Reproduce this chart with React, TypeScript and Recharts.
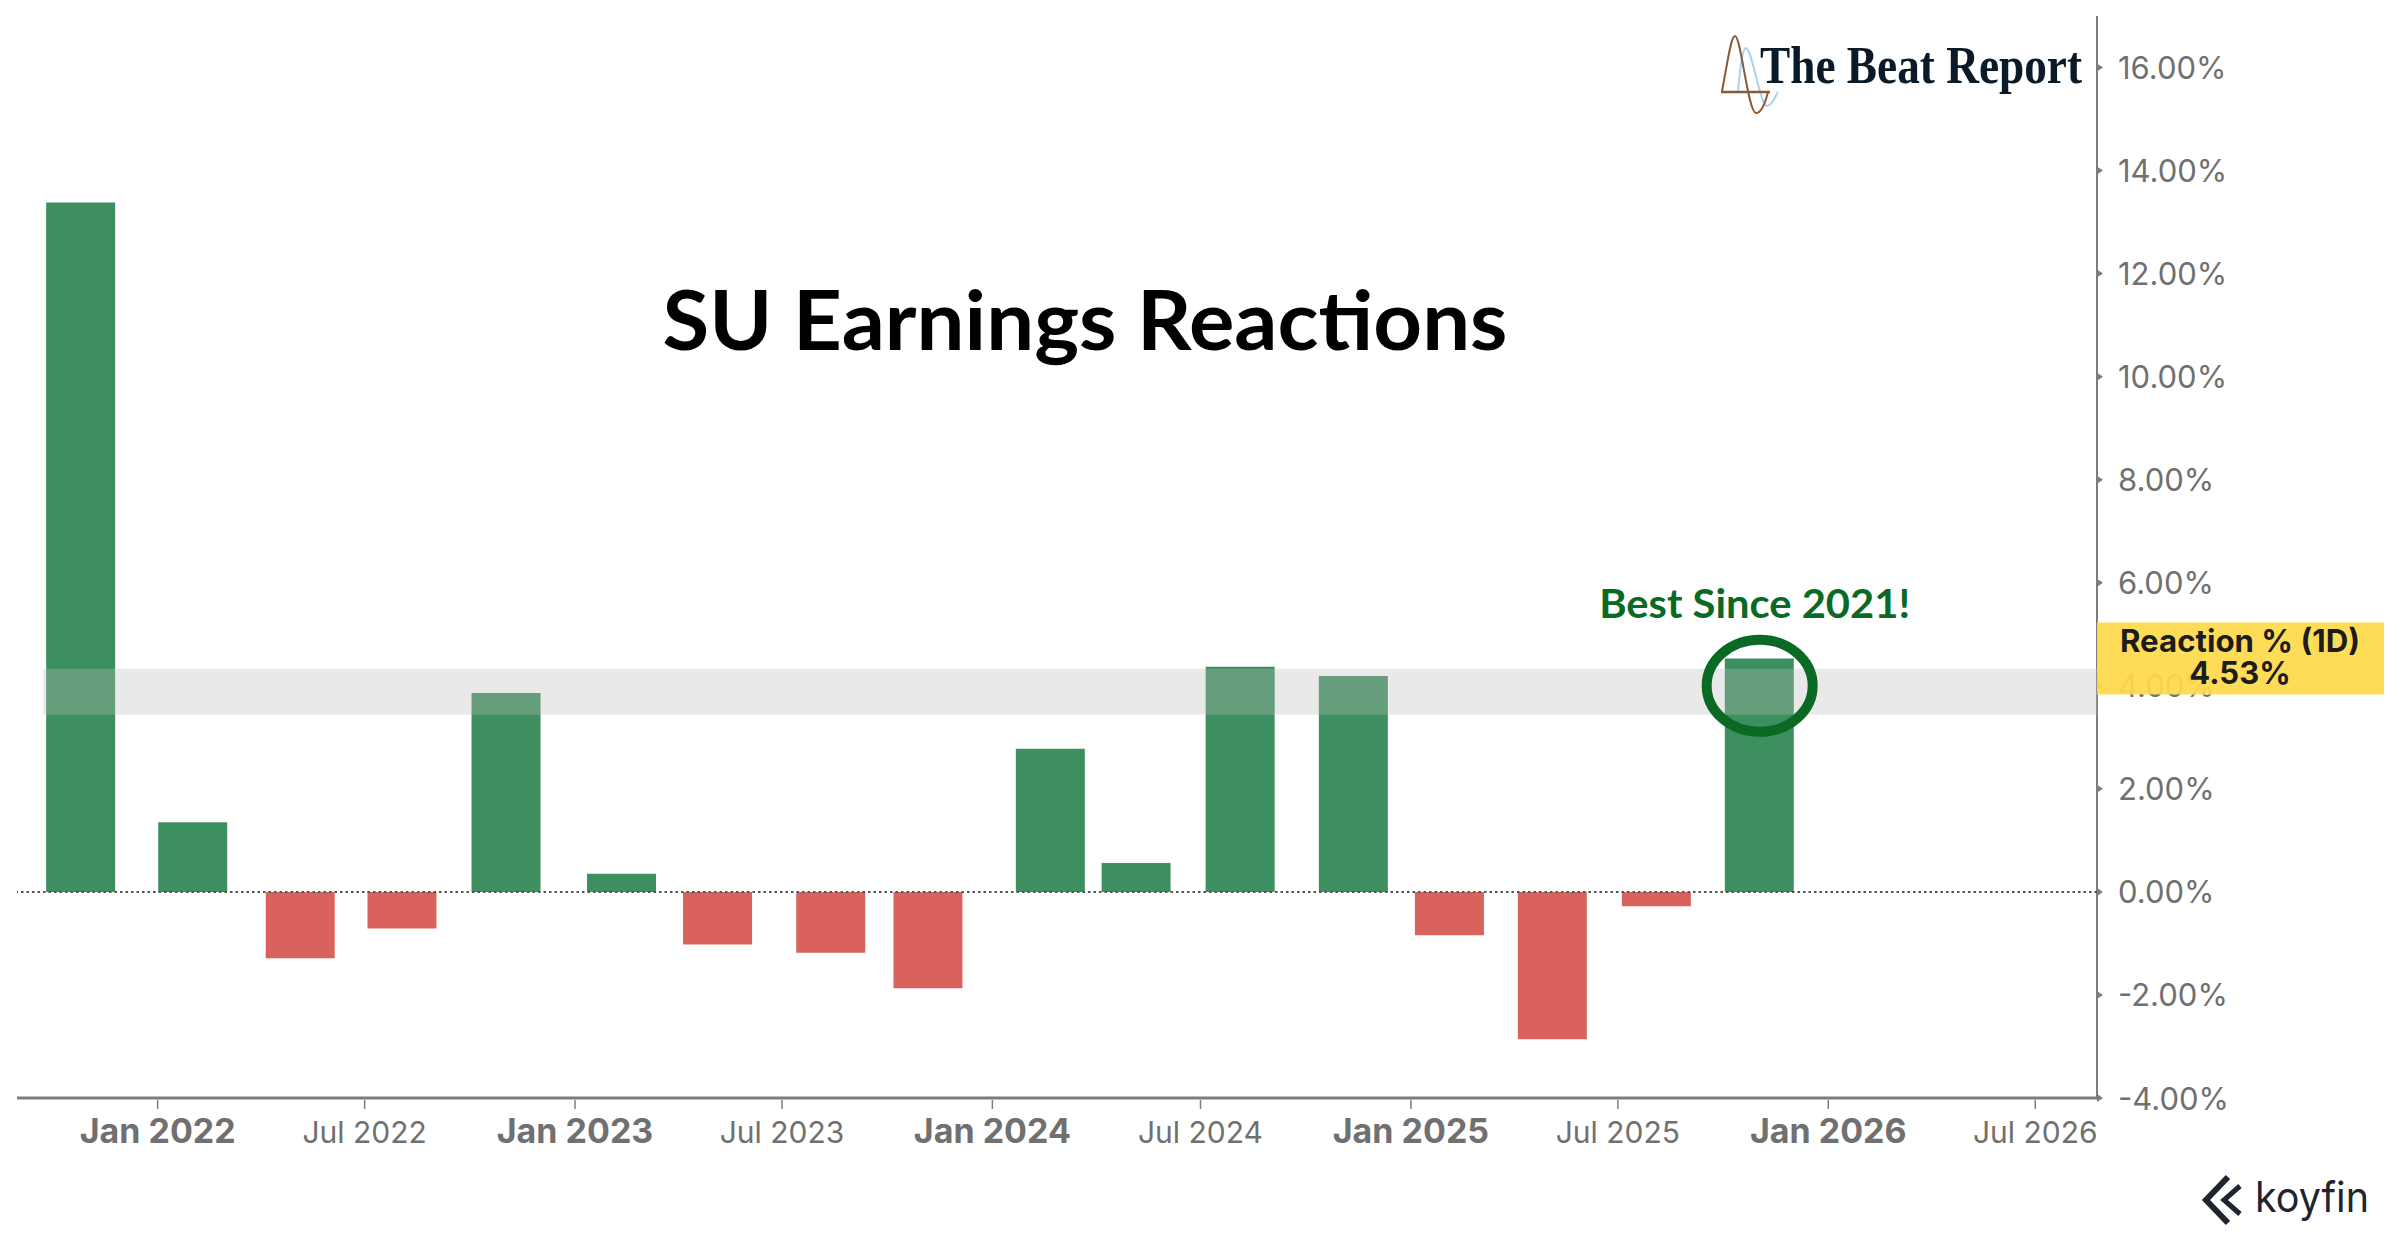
import * as React from "react"
import {
  ComposedChart,
  Bar,
  Cell,
  XAxis,
  YAxis,
  ReferenceLine,
  ReferenceArea,
  ReferenceDot,
} from "recharts"

// earnings report dates and the one-day price reaction (%)
const reportDates = [
  "2021-10-26", "2022-02-01", "2022-05-06", "2022-08-03", "2022-11-02",
  "2023-02-11", "2023-05-06", "2023-08-13", "2023-11-06", "2024-02-21",
  "2024-05-06", "2024-08-05", "2024-11-12", "2025-02-04", "2025-05-05",
  "2025-08-04", "2025-11-02",
]
const reactions = [
  13.38, 1.35, -1.29, -0.71, 3.86, 0.35, -1.02, -1.18, -1.87, 2.78, 0.56,
  4.37, 4.19, -0.84, -2.86, -0.28, 4.53,
]

const xTickDates = [
  "2022-01-01", "2022-07-01", "2023-01-01", "2023-07-01", "2024-01-01",
  "2024-07-01", "2025-01-01", "2025-07-01", "2026-01-01", "2026-07-01",
]
const yTicks = [-4, -2, 0, 2, 4, 6, 8, 10, 12, 14, 16]
const xRange = ["2021-08-31", "2026-08-24"]
const yRange = [-4, 17]
const bandRange = [3.44, 4.33]
const bandStart = "2021-09-23"
const lastValue = 4.53
const circleLevel = 4.0

const MONTHS = ["Jan", "Feb", "Mar", "Apr", "May", "Jun", "Jul", "Aug", "Sep", "Oct", "Nov", "Dec"]
const ms = (s: string) => Date.parse(s + "T00:00:00Z")

const data = reportDates.map((d, i) => ({ date: ms(d), value: reactions[i] }))
const xDomain = [ms(xRange[0]), ms(xRange[1])]
const xTicks = xTickDates.map(ms)

const GREEN = "#3d8f5f"
const RED = "#d9635c"
const AXIS = "#7d7d7d"
const TICK_TEXT = "#707070"
const FONT = "Inter, Roboto, sans-serif"

function XTick(props: any) {
  const { x, y, payload } = props
  const dt = new Date(payload.value)
  const isJan = dt.getUTCMonth() === 0
  return (
    <g>
      <line x1={x} x2={x} y1={y + 2} y2={y + 11} stroke={AXIS} strokeWidth={1.5} />
      <text
        x={x}
        y={y + 45}
        textAnchor="middle"
        fill={TICK_TEXT}
        fontFamily={FONT}
        fontWeight={isJan ? 700 : 400}
        fontSize={isJan ? 34 : 30}
      >
        {MONTHS[dt.getUTCMonth()]} {dt.getUTCFullYear()}
      </text>
    </g>
  )
}

function YTick(props: any) {
  const { x, y, payload } = props
  return (
    <g>
      <path d={`M${x},${y - 4} L${x + 6},${y} L${x},${y + 4} Z`} fill={AXIS} />
      <text
        x={x + 21}
        y={y}
        dominantBaseline="central"
        fill={TICK_TEXT}
        fontFamily={FONT}
        fontSize={31}
      >
        {payload.value.toFixed(2)}%
      </text>
    </g>
  )
}

// translucent crosshair band, drawn over the bars
function BandShade(props: any) {
  const vb = props.viewBox || {}
  return <rect x={vb.x} y={vb.y} width={vb.width} height={vb.height} fill="#bbbbbb" fillOpacity={0.325} />
}

function LastValueLabel(props: any) {
  const vb = props.viewBox || {}
  const left = vb.x + vb.width
  const cy = vb.y
  return (
    <g>
      <rect x={left} y={cy - 36} width={287} height={72} fill="#ffd94a" fillOpacity={0.93} />
      <text
        x={left + 143}
        y={cy - 7}
        textAnchor="middle"
        fill="#1c1c1c"
        fontFamily={FONT}
        fontWeight={700}
        fontSize={31}
        textLength={240}
        lengthAdjust="spacingAndGlyphs"
      >
        Reaction % (1D)
      </text>
      <text
        x={left + 143}
        y={cy + 25}
        textAnchor="middle"
        fill="#1c1c1c"
        fontFamily={FONT}
        fontWeight={700}
        fontSize={31}
      >
        {lastValue.toFixed(2)}%
      </text>
    </g>
  )
}

function CircleMark(props: any) {
  const { cx, cy } = props
  return (
    <g>
      <ellipse cx={cx} cy={cy} rx={53} ry={46} fill="none" stroke="#0a6a24" strokeWidth={10} />
      <text
        x={cx - 5}
        y={cy - 68}
        textAnchor="middle"
        fill="#0a6a24"
        fontFamily="Lato, sans-serif"
        fontWeight={700}
        fontSize={40}
        textLength={311}
        lengthAdjust="spacingAndGlyphs"
      >
        Best Since 2021!
      </text>
    </g>
  )
}

function Overlay() {
  return (
    <svg
      width={2400}
      height={1240}
      style={{ position: "absolute", left: 0, top: 0, pointerEvents: "none" }}
    >
      <text
        x={1085}
        y={350}
        textAnchor="middle"
        fill="#000"
        fontFamily="Lato, sans-serif"
        fontWeight={700}
        fontSize={82}
        textLength={845}
        lengthAdjust="spacingAndGlyphs"
      >
        SU Earnings Reactions
      </text>

      {/* The Beat Report logo */}
      <path
        d="M1738 91 C1740 70 1742 48 1746 48 C1752 48 1760 106 1767 106 C1772 106 1776 95 1778 92"
        fill="none"
        stroke="#a9d3ee"
        strokeWidth={2}
      />
      <path d="M1721 92 H1770" stroke="#8a5a36" strokeWidth={2.5} />
      <path
        d="M1722 91 C1728 60 1731 36 1735 36 C1741 36 1748 113 1756 113 C1762 113 1766 100 1768 92"
        fill="none"
        stroke="#8a5a36"
        strokeWidth={2}
      />
      <text
        x={1760}
        y={83}
        fill="#0b1a28"
        fontFamily="'Liberation Serif', serif"
        fontWeight={700}
        fontSize={52}
        textLength={322}
        lengthAdjust="spacingAndGlyphs"
      >
        The Beat Report
      </text>

      {/* koyfin logo */}
      <path d="M2228 1177 L2206 1200 L2228 1223" fill="none" stroke="#1f2430" strokeWidth={6} />
      <path d="M2240 1186 L2224 1200 L2240 1214" fill="none" stroke="#1f2430" strokeWidth={5} />
      <text
        x={2255}
        y={1212}
        fill="#1f2430"
        fontFamily={FONT}
        fontSize={42}
        textLength={114}
        lengthAdjust="spacingAndGlyphs"
      >
        koyfin
      </text>
    </svg>
  )
}

export default function App() {
  return (
    <div
      style={{
        position: "absolute",
        left: 0,
        top: 0,
        width: 2400,
        height: 1240,
        background: "#fff",
      }}
    >
      <ComposedChart
        width={2400}
        height={1240}
        data={data}
        margin={{ top: 16, right: 0, bottom: 0, left: 17 }}
      >
        <XAxis
          xAxisId="bottom"
          dataKey="date"
          type="number"
          domain={xDomain}
          ticks={xTicks}
          allowDataOverflow
          height={142}
          tickSize={0}
          tickMargin={0}
          tickLine={false}
          axisLine={{ stroke: AXIS, strokeWidth: 3 }}
          tick={<XTick />}
          interval={0}
        />
        <XAxis
          xAxisId="top"
          orientation="top"
          type="number"
          domain={xDomain}
          allowDataOverflow
          height={0}
          tick={false}
          tickLine={false}
          axisLine={{ stroke: AXIS, strokeWidth: 1.5 }}
        />
        <YAxis
          yAxisId="right"
          orientation="right"
          type="number"
          domain={yRange}
          ticks={yTicks}
          allowDataOverflow
          width={303}
          tickSize={0}
          tickMargin={0}
          tickLine={false}
          axisLine={{ stroke: AXIS, strokeWidth: 2 }}
          tick={<YTick />}
          interval={0}
        />
        <YAxis
          yAxisId="left"
          orientation="left"
          type="number"
          domain={yRange}
          allowDataOverflow
          width={0}
          tick={false}
          tickLine={false}
          axisLine={{ stroke: AXIS, strokeWidth: 1.5 }}
        />
        <Bar
          xAxisId="bottom"
          yAxisId="right"
          dataKey="value"
          barSize={69}
          isAnimationActive={false}
        >
          {data.map((d, i) => (
            <Cell key={i} fill={d.value >= 0 ? GREEN : RED} />
          ))}
        </Bar>
        <ReferenceArea
          xAxisId="bottom"
          yAxisId="right"
          x1={ms(bandStart)}
          x2={xDomain[1]}
          y1={bandRange[0]}
          y2={bandRange[1]}
          fill="none"
          stroke="none"
          zIndex={1000}
          label={<BandShade />}
        />
        <ReferenceLine
          xAxisId="bottom"
          yAxisId="right"
          y={0}
          stroke="#555"
          strokeWidth={2}
          strokeDasharray="2.5 3"
          zIndex={1000}
        />
        <ReferenceDot
          xAxisId="bottom"
          yAxisId="right"
          x={data[data.length - 1].date}
          y={circleLevel}
          ifOverflow="visible"
          zIndex={1000}
          shape={<CircleMark />}
        />
        <ReferenceLine
          xAxisId="bottom"
          yAxisId="right"
          y={lastValue}
          stroke="none"
          ifOverflow="visible"
          zIndex={2500}
          label={<LastValueLabel />}
        />
      </ComposedChart>
      <Overlay />
    </div>
  )
}
